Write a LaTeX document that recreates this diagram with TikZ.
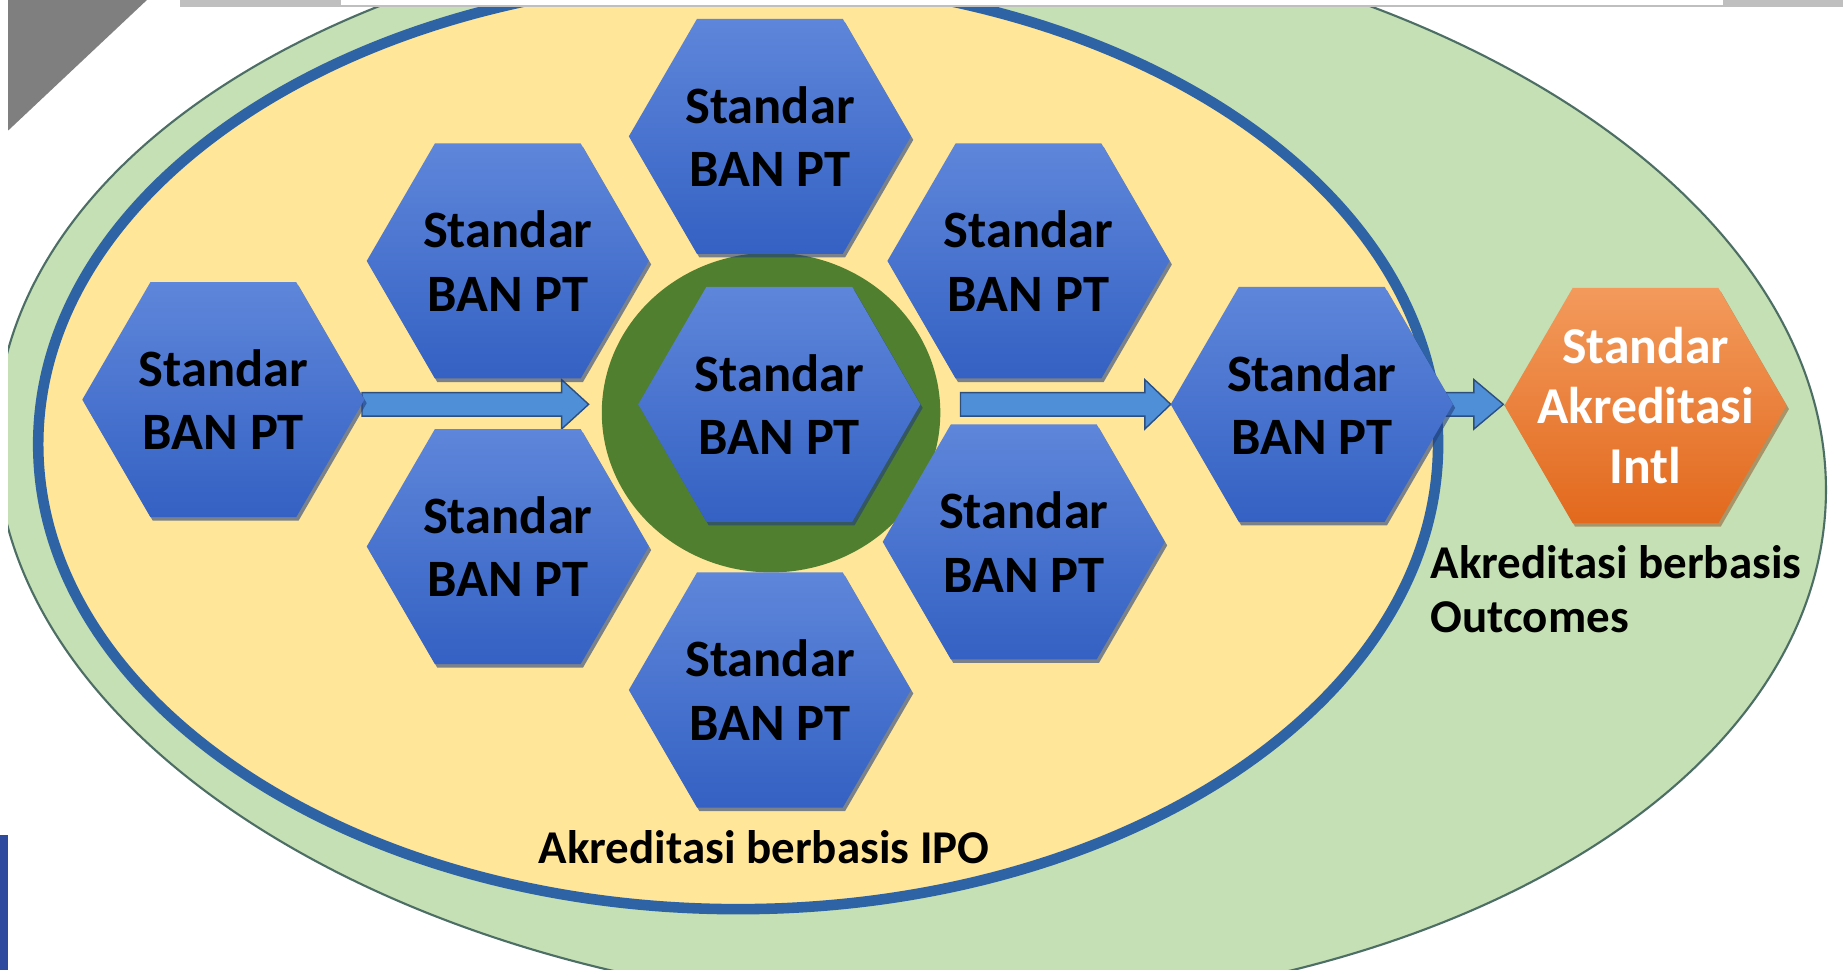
\documentclass[tikz,border=0pt]{standalone}
\usepackage{fontspec}
\setmainfont{Carlito}
\usetikzlibrary{calc,shapes.geometric}
\definecolor{gfill}{HTML}{C5E0B4}
\definecolor{gline}{HTML}{4D6E64}
\definecolor{yfill}{HTML}{FFE699}
\definecolor{yline}{HTML}{2E64A6}
\definecolor{hextop}{HTML}{5E86DA}
\definecolor{hexbot}{HTML}{3461C3}
\definecolor{hexshd}{HTML}{223E7E}
\definecolor{orgtop}{HTML}{F39A5C}
\definecolor{orgbot}{HTML}{E2691D}
\definecolor{orgshd}{HTML}{8A4A1E}
\definecolor{ringc}{HTML}{4F7F2F}
\definecolor{arrfill}{HTML}{4F8FD8}
\definecolor{arrline}{HTML}{2C4F80}
\definecolor{darkgrey}{HTML}{7F7F7F}
\definecolor{lightgrey}{HTML}{BFBFBF}
\definecolor{barblue}{HTML}{2E4A9E}
\newcommand\hexfont{\bfseries\fontsize{44.7}{54}\selectfont}
\newcommand\orgfont{\bfseries\fontsize{44}{51}\selectfont}
\newcommand\lblfont{\bfseries\fontsize{40}{46}\selectfont}
\pgfdeclarelayer{bg}
\pgfdeclarelayer{mid}
\pgfsetlayers{bg,mid,main}
\newcommand\blockarrow[3]{%
  \draw[arrowstyle] let \p1=(#1), \p2=(#2) in
    (\x1,\y2-10pt) -- (\x2-#3,\y2-10pt) -- (\x2-#3,\y2-21pt) -- (\x2,\y2)
    -- (\x2-#3,\y2+21pt) -- (\x2-#3,\y2+10pt) -- (\x1,\y2+10pt) -- cycle;}
\tikzset{
  hexbase/.style={rectangle, inner sep=0pt, minimum width=246pt, minimum height=206pt, align=center},
  bluehex/.style={hexbase, text=black, font=\hexfont, path picture={
    \coordinate (hc) at (path picture bounding box.center);
    \fill[hexshd, opacity=0.6] ($(hc)+(2,3)$) +(-120,0) -- +(-62,-100) -- +(62,-100) -- +(120,0) -- +(62,100) -- +(-62,100) -- cycle;
    \shade[top color=hextop, bottom color=hexbot] (hc) +(-120,0) -- +(-62,-100) -- +(62,-100) -- +(120,0) -- +(62,100) -- +(-62,100) -- cycle;
  }},
  orghex/.style={hexbase, text=white, font=\orgfont, path picture={
    \coordinate (hc) at (path picture bounding box.center);
    \fill[orgshd, opacity=0.5] ($(hc)+(2,3)$) +(-120,0) -- +(-62,-100) -- +(62,-100) -- +(120,0) -- +(62,100) -- +(-62,100) -- cycle;
    \shade[top color=orgtop, bottom color=orgbot] (hc) +(-120,0) -- +(-62,-100) -- +(62,-100) -- +(120,0) -- +(62,100) -- +(-62,100) -- cycle;
  }},
  arrowstyle/.style={fill=arrfill, draw=arrline, line width=1.2pt, line join=miter},
  lbl/.style={inner sep=0pt, text=black, font=\lblfont}
}
\begin{document}
\begin{tikzpicture}[x=1pt, y=-1pt]
\useasboundingbox (0,0) rectangle (1568,825);
\begin{pgfonlayer}{bg}
  \fill[white] (0,0) rectangle (1568,825);
  \begin{scope}
    \clip (7,-10) rectangle (1575,825);
    \draw[gline, line width=1.8pt, fill=gfill, rotate around={-2.5:(775,395)}] (775,395) ellipse [x radius=779pt, y radius=463pt];
    \draw[yline, line width=9pt, fill=yfill] (628,378) ellipse [x radius=595.5pt, y radius=395.5pt];
  \end{scope}
  \node[ellipse, fill=ringc, minimum width=288pt, minimum height=272pt, inner sep=0pt] (ring) at (656,351) {};
\end{pgfonlayer}

% hexagons
\node[bluehex] (h1) at (190,340) {Standar\\BAN PT};
\node[bluehex] (h2) at (432,222) {Standar\\BAN PT};
\node[bluehex] (h3) at (655,116) {Standar\\BAN PT};
\node[bluehex] (h4) at (875,222) {Standar\\BAN PT};
\node[bluehex] (h5) at (663,344) {Standar\\BAN PT};
\node[bluehex] (h6) at (432,465) {Standar\\BAN PT};
\node[bluehex] (h7) at (655,587) {Standar\\BAN PT};
\node[bluehex] (h8) at (871,461) {Standar\\BAN PT};
\node[bluehex] (h9) at (1116,344) {Standar\\BAN PT};
\node[orghex] (intl) at (1400,345) {Standar\\Akreditasi\\Intl};

% arrows
\begin{pgfonlayer}{mid}
  \coordinate (a1s) at ($(h1.center |- h5.center)+(118,0)$);
  \coordinate (a1e) at ($(ring.west |- h5.center)+(-11,0)$);
  \coordinate (a2s) at ($(ring.east |- h5.center)+(17,0)$);
  \coordinate (a2e) at ($(h9.center)+(-120,0)$);
  \coordinate (a3s) at ($(h9.center)+(114,0)$);
  \coordinate (a3e) at ($(intl.center |- h9.center)+(-121,0)$);
  \blockarrow{a1s}{a1e}{23pt}
  \blockarrow{a2s}{a2e}{22pt}
  \blockarrow{a3s}{a3e}{25pt}
\end{pgfonlayer}

% labels
\node[lbl, anchor=base west] (ipo) at (458,735) {Akreditasi berbasis IPO};
\node[lbl, anchor=north west, align=left] (outc) at (1217,464) {Akreditasi berbasis\\Outcomes};

% slide decorations
\fill[darkgrey] (7,0) -- (125,0) -- (7,111) -- cycle;
\fill[lightgrey] (153,0) rectangle (1568,6);
\fill[white] (290,0) rectangle (1466,4);
\draw[black!25, line width=0.8pt] (290,4.4) -- (1466,4.4);
\fill[barblue] (0,710) rectangle (7,825);
\end{tikzpicture}
\end{document}
